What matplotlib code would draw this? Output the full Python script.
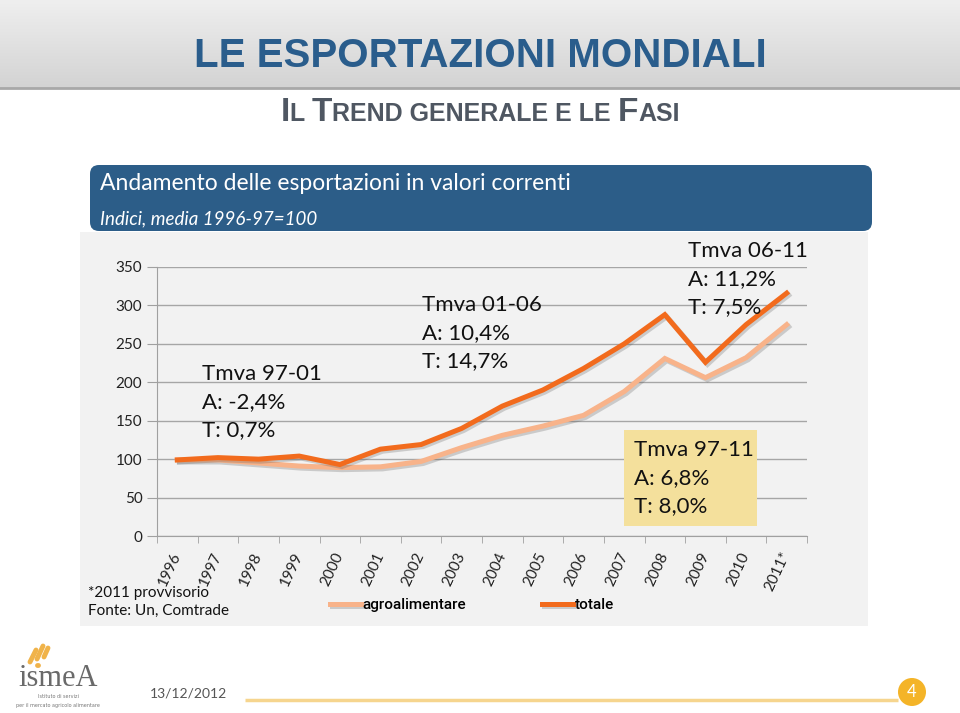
import numpy as np
import matplotlib
matplotlib.use("Agg")
import matplotlib.pyplot as plt
import matplotlib.patheffects as pe
from matplotlib.patches import FancyBboxPatch, Rectangle, Circle

# --- data (index, media 1996-97 = 100) ---
years = ['1996', '1997', '1998', '1999', '2000', '2001', '2002', '2003',
         '2004', '2005', '2006', '2007', '2008', '2009', '2010', '2011*']
agroalimentare = [99, 99, 95, 91, 89, 90, 97, 115, 131, 143, 157, 188, 231, 206, 232, 275]
totale = [99, 102, 100, 104, 93, 113, 119, 140, 169, 190, 218, 250, 288, 226, 275, 316]

col_tot = '#f26b1d'
col_agro = '#f8b38a'
blue = '#2c5d88'

fig = plt.figure(figsize=(9.6, 7.13), dpi=100)
fig.patch.set_facecolor('white')

# background layer in pixel coordinates
bg = fig.add_axes([0, 0, 1, 1], zorder=0)
bg.axis('off')

# header gradient
grad = np.linspace(0, 1, 100).reshape(-1, 1)
bg.imshow(grad, extent=(0, 960, 88, 0), cmap=matplotlib.colors.LinearSegmentedColormap.from_list(
    'g', ['#efefef', '#d3d3d3']), aspect='auto', zorder=0)
bg.plot([0, 960], [88, 88], color='#a8a8a8', lw=2, zorder=1)
bg.set_xlim(0, 960)
bg.set_ylim(713, 0)

bg.text(480, 56, 'LE ESPORTAZIONI MONDIALI', ha='center', va='center',
        fontsize=29, fontweight='bold', color='#2a5d8c', family='Liberation Sans')

# small caps subtitle
pieces = [('I', 24), ('L ', 18), ('T', 24), ('REND GENERALE E LE ', 18), ('F', 24), ('ASI', 18)]
r = fig.canvas.get_renderer()
objs = []
for s, fs in pieces:
    t = bg.text(0, 121, s, ha='left', va='baseline', fontsize=fs, fontweight='bold',
                color='#4f5762', family='Liberation Sans')
    objs.append(t)
widths = [o.get_window_extent(r).width for o in objs]
x0 = 480 - sum(widths) / 2
for o, w in zip(objs, widths):
    o.set_x(x0)
    x0 += w

# chart panel and banner
bg.add_patch(Rectangle((80, 232), 788, 394, facecolor='#f2f2f2', edgecolor='none', zorder=1))
bg.add_patch(FancyBboxPatch((90, 165), 782, 66, boxstyle='round,pad=0,rounding_size=9',
                            facecolor=blue, edgecolor='none', zorder=2))
bg.text(100, 183, 'Andamento delle esportazioni in valori correnti', ha='left', va='center',
        fontsize=16.5, color='white', family='Lato', zorder=3)
bg.text(100, 219, 'Indici, media 1996-97=100', ha='left', va='center',
        fontsize=13.5, color='white', family='Lato', style='italic', zorder=3)

bg.text(88, 593, '*2011 provvisorio', ha='left', va='center', fontsize=11, family='Lato', color='#111111')
bg.text(88, 611, 'Fonte: Un, Comtrade', ha='left', va='center', fontsize=11, family='Lato', color='#111111')

# footer
bg.text(150, 694, '13/12/2012', ha='left', va='center', fontsize=10, family='Lato', color='#555555')
bg.plot([245, 898], [700, 700], color='#f6d58e', lw=2.5, solid_capstyle='butt')
bg.add_patch(Circle((912, 692), 14, facecolor='#f4b428', edgecolor='none'))
bg.text(912, 692, '4', ha='center', va='center', fontsize=12, color='white', family='Lato')

# rough logo
bg.text(58, 678, 'ismeA', ha='center', va='center', fontsize=22, color='#6a6a6a', family='Liberation Serif')
for (xa, ya, xb, yb) in [(30, 662, 36, 650), (37, 659, 43, 646), (44, 657, 48, 648), (37, 665, 38, 665)]:
    bg.plot([xa, xb], [ya, yb], color='#f0b34a', lw=3.5, solid_capstyle='round')
bg.text(58, 697, 'Istituto di servizi', ha='center', va='center', fontsize=3.5, color='#777777')
bg.text(58, 705, 'per il mercato agricolo alimentare', ha='center', va='center', fontsize=3.5, color='#777777')

# --- chart ---
ax = fig.add_axes([157 / 960, 1 - 536 / 713, 650 / 960, 269 / 713], zorder=2)
ax.patch.set_alpha(0)
xs = np.arange(len(years))
shadow = [pe.SimpleLineShadow(offset=(1.5, -1.5), alpha=0.25, shadow_color='#555555'), pe.Normal()]
l1, = ax.plot(xs, agroalimentare, color=col_agro, lw=3.6, solid_joinstyle='miter',
              path_effects=shadow, label='agroalimentare', zorder=3)
l2, = ax.plot(xs, totale, color=col_tot, lw=3.6, solid_joinstyle='miter',
              path_effects=shadow, label='totale', zorder=4)

ax.set_xlim(-0.5, len(years) - 0.5)
ax.set_ylim(0, 350)
ax.set_yticks(np.arange(0, 351, 50))
ax.yaxis.grid(True, color='#a6a6a6', lw=1)
ax.set_axisbelow(True)
for s in ['top', 'right']:
    ax.spines[s].set_visible(False)
for s in ['left', 'bottom']:
    ax.spines[s].set_color('#a0a0a0')
ax.tick_params(axis='y', length=7, color='#a0a0a0', labelsize=11, labelcolor='#222222')
ax.set_xticks(xs)
ax.set_xticklabels(years, rotation=65, ha='right', va='center', rotation_mode='anchor',
                   fontsize=11, color='#222222', family='Lato')
ax.tick_params(axis='x', length=0, pad=12)
ax.set_xticks(np.arange(-0.5, len(years)), minor=True)
ax.tick_params(axis='x', which='minor', length=5, color='#a0a0a0')
for lab in ax.get_yticklabels():
    lab.set_family('Lato')

# annotations
ann = dict(ha='left', va='top', fontsize=16, family='Lato', color='#111111', linespacing=1.5)
ax.text(0.62, 224, 'Tmva 97-01\nA: -2,4%\nT: 0,7%', **ann)
ax.text(6.03, 314, 'Tmva 01-06\nA: 10,4%\nT: 14,7%', **ann)
ax.text(12.56, 384, 'Tmva 06-11\nA: 11,2%\nT: 7,5%', clip_on=False, zorder=5, **ann)
ax.add_patch(Rectangle((10.99, 13), 3.27, 125, facecolor='#f4e09c', edgecolor='none', zorder=5))
ax.text(11.23, 125, 'Tmva 97-11\nA: 6,8%\nT: 8,0%', zorder=6, **ann)

fig.legend(handles=[l1, l2], loc='center', bbox_to_anchor=(472 / 960, 1 - 605 / 713), ncol=2,
           frameon=False, handlelength=2.0, handletextpad=0.1, columnspacing=5,
           prop={'family': 'Roboto', 'size': 11, 'weight': 'medium'})

fig.savefig('out.png', dpi=100)
